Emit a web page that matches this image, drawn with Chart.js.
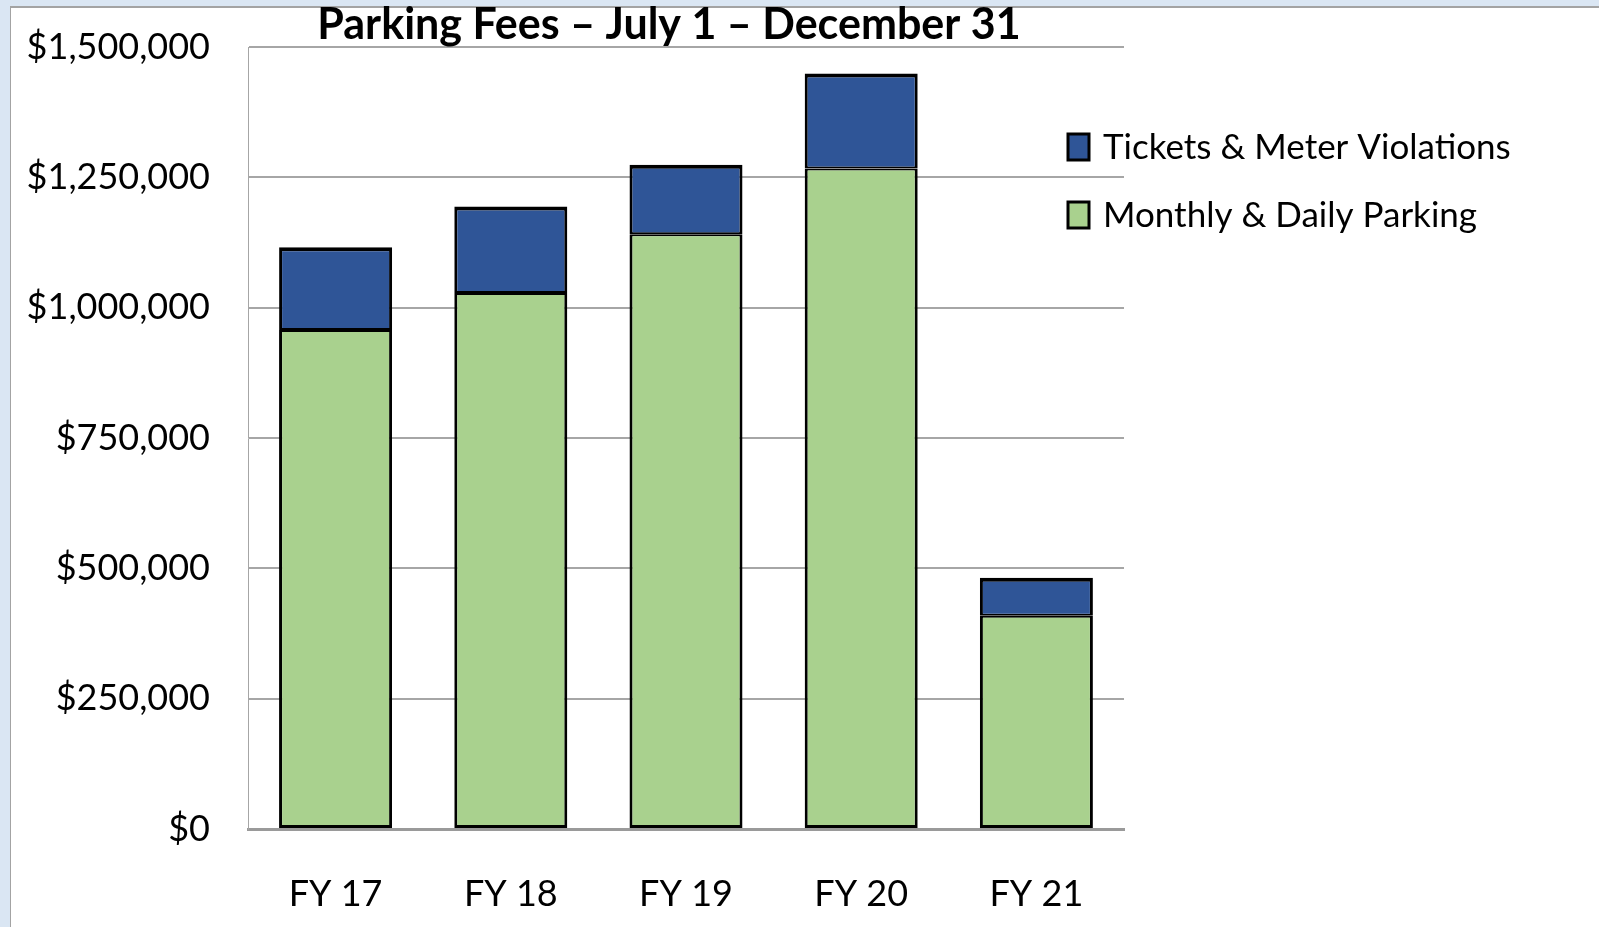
<!DOCTYPE html>
<html>
<head>
<meta charset="utf-8">
<script src="https://cdn.jsdelivr.net/npm/chart.js@4.4.1/dist/chart.umd.min.js"></script>
<style>
  html, body { margin: 0; padding: 0; background: #dae6f3; overflow: hidden; }
  .panel { position: absolute; left: 10px; top: 6px; width: 1589px; height: 921px;
           background: #fff; border-top: 2px solid #a3a3a3; border-left: 1px solid #a3a3a3; box-sizing: border-box; }
  .wrap { position: absolute; left: 0; top: 0; width: 1599px; height: 927px; }
  canvas { display: block; }
</style>
</head>
<body>
<div class="panel"></div>
<div class="wrap"><canvas id="feesChart" width="1599" height="927"></canvas></div>
<script>
// --- data ---
const categories = ['FY 17', 'FY 18', 'FY 19', 'FY 20', 'FY 21'];
const monthlyDaily = [957000, 1028000, 1141000, 1267000, 409000];
const ticketsMeter = [159000, 166000, 133000, 182000, 73000];
const yTicks = [0, 250000, 500000, 750000, 1000000, 1250000, 1500000];
const chartTitle = 'Parking Fees \u2013 July 1 \u2013 December 31';

const FONT = 'Lato, "Open Sans", sans-serif';

// title + legend drawn by hand so they sit where the original has them
const overlay = {
    id: 'overlay',
    afterDraw(chart) {
        const ctx = chart.ctx;
        ctx.save();
        ctx.fillStyle = '#000';
        ctx.font = 'bold 43px ' + FONT;
        ctx.textAlign = 'center';
        ctx.textBaseline = 'alphabetic';
        ctx.fillText(chartTitle, 669, 39);

        // legend, top series first
        const items = chart.data.datasets.slice().reverse();
        ctx.font = '35px ' + FONT;
        ctx.textAlign = 'left';
        ctx.textBaseline = 'middle';
        items.forEach((ds, i) => {
            const cy = 147 + i * 68;
            ctx.fillStyle = ds.backgroundColor;
            ctx.fillRect(1068, cy - 13, 21, 26);
            ctx.lineWidth = 3;
            ctx.strokeStyle = '#000';
            ctx.strokeRect(1068, cy - 13, 21, 26);
            ctx.fillStyle = '#000';
            ctx.fillText(ds.label, 1103, cy + 1);
        });
        ctx.restore();
    }
};

new Chart(document.getElementById('feesChart'), {
    type: 'bar',
    data: {
        labels: categories,
        datasets: [
            {
                label: 'Monthly & Daily Parking',
                data: monthlyDaily,
                backgroundColor: '#a9d18e',
                borderColor: '#000',
                borderWidth: { top: 2, left: 3, right: 3, bottom: 3 },
                borderSkipped: false
            },
            {
                label: 'Tickets & Meter Violations',
                data: ticketsMeter,
                backgroundColor: '#2f5597',
                borderColor: '#000',
                borderWidth: { top: 4, left: 3, right: 3, bottom: 2 },
                borderSkipped: false
            }
        ]
    },
    options: {
        responsive: false,
        animation: false,
        layout: { padding: { top: 47, right: 475, bottom: 0, left: 0 } },
        datasets: { bar: { categoryPercentage: 1, barPercentage: 0.645 } },
        plugins: {
            legend: { display: false },
            title: { display: false },
            tooltip: { enabled: false }
        },
        scales: {
            x: {
                stacked: true,
                grid: { display: false },
                border: { color: '#9a9a9a', width: 3 },
                ticks: { color: '#000', font: { family: FONT, size: 36 }, padding: 36 },
                afterFit: s => { s.height = 98; }
            },
            y: {
                stacked: true,
                min: 0,
                max: 1500000,
                afterBuildTicks: s => { s.ticks = yTicks.map(v => ({ value: v })); },
                grid: { color: '#a6a6a6', lineWidth: 2, drawTicks: false },
                border: { color: '#a6a6a6', width: 1 },
                ticks: {
                    color: '#000',
                    font: { family: FONT, size: 36 },
                    padding: 38,
                    callback: v => '$' + Number(v).toLocaleString('en-US')
                },
                // tick padding would otherwise push the plot top down
                afterFit: s => { s.width = 248; s.paddingTop = 20; s.paddingBottom = 20; }
            }
        }
    },
    plugins: [overlay]
});
</script>
</body>
</html>
